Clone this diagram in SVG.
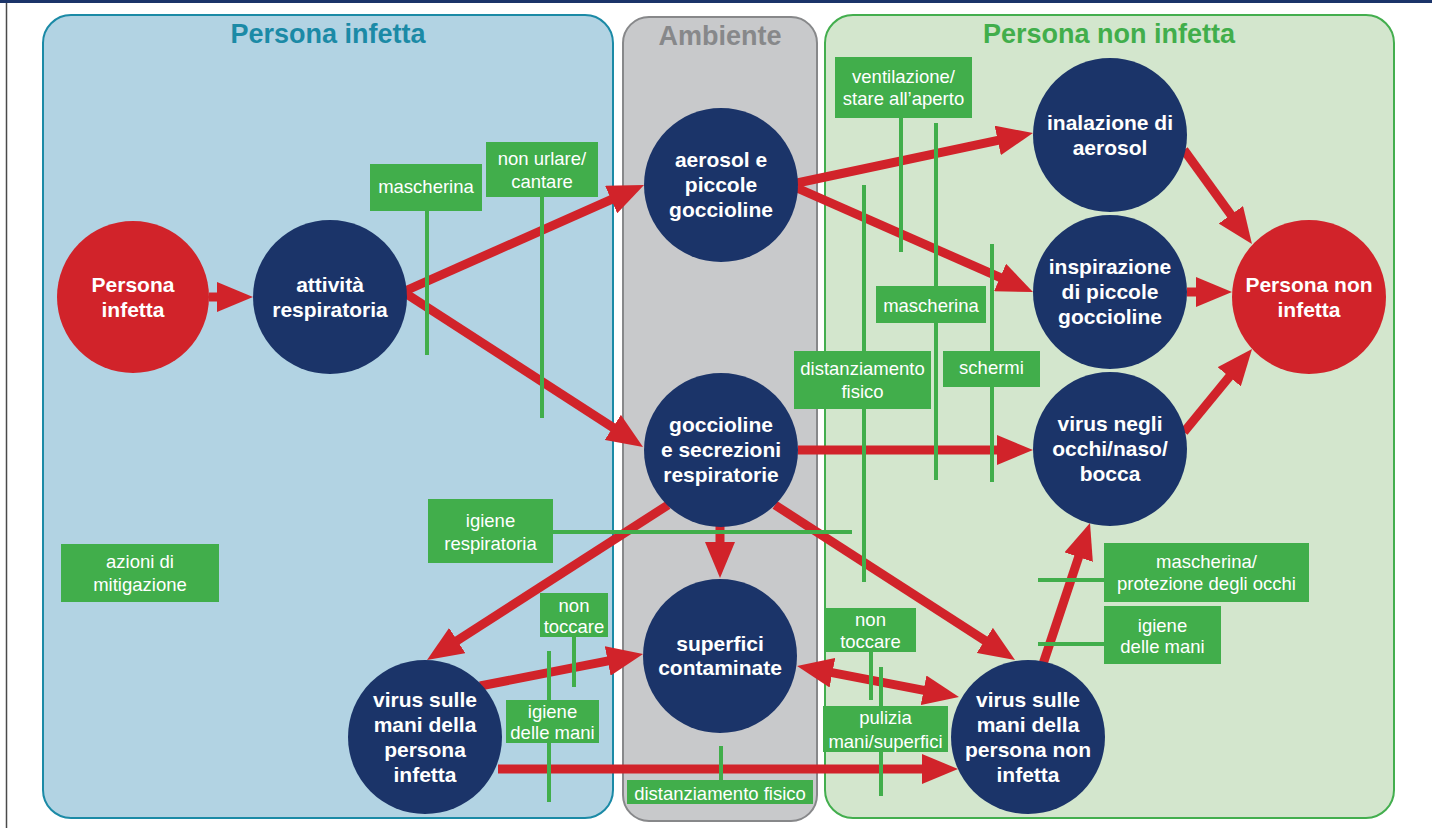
<svg xmlns="http://www.w3.org/2000/svg" width="1432" height="828" viewBox="0 0 1432 828">
<style>
.title{font-family:"Liberation Sans",Arial,sans-serif;font-weight:bold;font-size:27px;text-anchor:middle}
.nt{font-family:"Liberation Sans",Arial,sans-serif;font-weight:bold;font-size:21px;fill:#fff;text-anchor:middle}
.lt{font-family:"Liberation Sans",Arial,sans-serif;font-size:18.5px;fill:#fff;text-anchor:middle}
.navy{fill:#1b3469}
.red{fill:#d1232a}
.box{fill:#41ae4b}
.ml{stroke:#41ae4b;stroke-width:4;fill:none}
.arr{stroke:#d1232a;stroke-width:9;fill:none;marker-end:url(#ah)}
</style>
<defs>
<marker id="ah" markerUnits="userSpaceOnUse" markerWidth="36" markerHeight="30" refX="11" refY="15" orient="auto-start-reverse" viewBox="0 0 36 30">
<path d="M0,0 L36,15 L0,30 z" fill="#d1232a"/>
</marker>
</defs>
<rect x="0" y="0" width="1432" height="828" fill="#fff"/>
<rect x="0" y="0" width="1432" height="3" fill="#1b3469"/>
<line x1="6.5" y1="3" x2="6.5" y2="828" stroke="#4a4a4a" stroke-width="1.5"/>

<g id="panels">
<g id="panel-infetta">
<rect x="43" y="15" width="570" height="803" rx="28" fill="#b2d3e3" stroke="#1b8aa6" stroke-width="2"/>
<text class="title" x="328" y="43" fill="#1b8aa6">Persona infetta</text>
</g>
<g id="panel-ambiente">
<rect x="623" y="17" width="194" height="804" rx="26" fill="#c8c9cb" stroke="#87888a" stroke-width="2"/>
<text class="title" x="720" y="45" fill="#87888a">Ambiente</text>
</g>
<g id="panel-non-infetta">
<rect x="825" y="15" width="569" height="803" rx="28" fill="#d3e6cd" stroke="#43ae4e" stroke-width="2"/>
<text class="title" x="1109" y="43" fill="#41ae4b">Persona non infetta</text>
</g>
</g>

<g id="connectors">
<path class="arr" d="M209,297 L228,297"/>
<path class="arr" d="M405,291 L621.2,195.1"/>
<path class="arr" d="M405,293 L622,433.4"/>
<path class="arr" d="M797,183 L1008.5,138.2"/>
<path class="arr" d="M797,188 L1010.1,281.9"/>
<path class="arr" d="M798,450 L1008,450"/>
<path class="arr" d="M720,526 L720,553"/>
<path class="arr" d="M668,505 L448,646.5"/>
<path class="arr" d="M775,505 L994,646.4"/>
<path class="arr" d="M480,686 L618.5,658.8"/>
<path class="arr" style="marker-start:url(#ah)" d="M821.6,670.7 L934.4,692.3"/>
<path class="arr" d="M498,769 L933,769"/>
<path class="arr" d="M1043,664 L1082.1,546.7"/>
<path class="arr" d="M1184,150 L1237.3,223.7"/>
<path class="arr" d="M1187,292 L1207,292"/>
<path class="arr" d="M1184,432 L1236.2,368.3"/>
</g>

<g id="mitigation-lines">
<path class="ml" d="M427,211 V355"/>
<path class="ml" d="M542,197 V418"/>
<path class="ml" d="M901,118 V252"/>
<path class="ml" d="M936,123 V286 M936,323 V480"/>
<path class="ml" d="M864,185 V351 M864,409 V582"/>
<path class="ml" d="M992,244 V351 M992,387 V482"/>
<path class="ml" d="M553,532 H852"/>
<path class="ml" d="M574,637 V687"/>
<path class="ml" d="M549,651 V700 M549,743 V802"/>
<path class="ml" d="M721,746 V780"/>
<path class="ml" d="M871,652 V700"/>
<path class="ml" d="M881,667 V706 M881,752 V796"/>
<path class="ml" d="M1038,580 H1104"/>
<path class="ml" d="M1038,644 H1104"/>
</g>

<g id="m-mascherina-1"><rect class="box" x="370" y="164" width="112" height="47"/><text class="lt" x="426" y="193">mascherina</text></g>
<g id="m-non-urlare"><rect class="box" x="486" y="142" width="112" height="55"/><text class="lt" x="542" y="165">non urlare/</text><text class="lt" x="542" y="188">cantare</text></g>
<g id="m-ventilazione"><rect class="box" x="835" y="57" width="137" height="61"/><text class="lt" x="903.5" y="83">ventilazione/</text><text class="lt" x="903.5" y="105">stare all’aperto</text></g>
<g id="m-mascherina-2"><rect class="box" x="876" y="286" width="110" height="37"/><text class="lt" x="931" y="312">mascherina</text></g>
<g id="m-distanziamento-1"><rect class="box" x="794" y="351" width="137" height="58"/><text class="lt" x="862.5" y="375">distanziamento</text><text class="lt" x="862.5" y="398">fisico</text></g>
<g id="m-schermi"><rect class="box" x="943" y="351" width="97" height="36"/><text class="lt" x="991.5" y="374">schermi</text></g>
<g id="m-igiene-resp"><rect class="box" x="428" y="499" width="125" height="64"/><text class="lt" x="490.5" y="527">igiene</text><text class="lt" x="490.5" y="550">respiratoria</text></g>
<g id="m-non-toccare-1"><rect class="box" x="540" y="593" width="68" height="44"/><text class="lt" x="574" y="612">non</text><text class="lt" x="574" y="633">toccare</text></g>
<g id="m-igiene-mani-1"><rect class="box" x="506" y="700" width="93" height="43"/><text class="lt" x="552.5" y="718">igiene</text><text class="lt" x="552.5" y="739">delle mani</text></g>
<g id="m-distanziamento-2"><rect class="box" x="627" y="780" width="186" height="24"/><text class="lt" x="720" y="800">distanziamento fisico</text></g>
<g id="m-non-toccare-2"><rect class="box" x="825" y="608" width="91" height="44"/><text class="lt" x="870.5" y="626">non</text><text class="lt" x="870.5" y="648">toccare</text></g>
<g id="m-pulizia"><rect class="box" x="823" y="706" width="125" height="46"/><text class="lt" x="885.5" y="724">pulizia</text><text class="lt" x="885.5" y="748">mani/superfici</text></g>
<g id="m-mascherina-occhi"><rect class="box" x="1104" y="543" width="205" height="59"/><text class="lt" x="1206.5" y="568">mascherina/</text><text class="lt" x="1206.5" y="590">protezione degli occhi</text></g>
<g id="m-igiene-mani-2"><rect class="box" x="1104" y="606" width="117" height="58"/><text class="lt" x="1162.5" y="632">igiene</text><text class="lt" x="1162.5" y="653">delle mani</text></g>
<g id="legend"><rect class="box" x="61" y="544" width="158" height="58"/><text class="lt" x="140" y="568">azioni di</text><text class="lt" x="140" y="591">mitigazione</text></g>

<g id="n-persona-infetta"><circle class="red" cx="133" cy="297" r="76"/><text class="nt" x="133" y="292">Persona</text><text class="nt" x="133" y="317">infetta</text></g>
<g id="n-attivita"><circle class="navy" cx="330" cy="297" r="77"/><text class="nt" x="330" y="292">attività</text><text class="nt" x="330" y="317">respiratoria</text></g>
<g id="n-aerosol"><circle class="navy" cx="721" cy="185" r="77"/><text class="nt" x="721" y="167">aerosol e</text><text class="nt" x="721" y="192">piccole</text><text class="nt" x="721" y="217">goccioline</text></g>
<g id="n-goccioline"><circle class="navy" cx="721" cy="450" r="77"/><text class="nt" x="721" y="432">goccioline</text><text class="nt" x="721" y="457">e secrezioni</text><text class="nt" x="721" y="482">respiratorie</text></g>
<g id="n-superfici"><circle class="navy" cx="720" cy="656" r="77"/><text class="nt" x="720" y="651">superfici</text><text class="nt" x="720" y="675">contaminate</text></g>
<g id="n-mani-infetta"><circle class="navy" cx="425" cy="737" r="77"/><text class="nt" x="425" y="707">virus sulle</text><text class="nt" x="425" y="732">mani della</text><text class="nt" x="425" y="757">persona</text><text class="nt" x="425" y="782">infetta</text></g>
<g id="n-mani-non-infetta"><circle class="navy" cx="1028" cy="737" r="77"/><text class="nt" x="1028" y="707">virus sulle</text><text class="nt" x="1028" y="732">mani della</text><text class="nt" x="1028" y="757">persona non</text><text class="nt" x="1028" y="782">infetta</text></g>
<g id="n-inalazione"><circle class="navy" cx="1110" cy="135" r="77"/><text class="nt" x="1110" y="130">inalazione di</text><text class="nt" x="1110" y="155">aerosol</text></g>
<g id="n-inspirazione"><circle class="navy" cx="1110" cy="292" r="77"/><text class="nt" x="1110" y="274">inspirazione</text><text class="nt" x="1110" y="299">di piccole</text><text class="nt" x="1110" y="324">goccioline</text></g>
<g id="n-occhi"><circle class="navy" cx="1110" cy="449" r="77"/><text class="nt" x="1110" y="431">virus negli</text><text class="nt" x="1110" y="456">occhi/naso/</text><text class="nt" x="1110" y="481">bocca</text></g>
<g id="n-persona-non-infetta"><circle class="red" cx="1309" cy="297" r="77"/><text class="nt" x="1309" y="292">Persona non</text><text class="nt" x="1309" y="317">infetta</text></g>
</svg>
